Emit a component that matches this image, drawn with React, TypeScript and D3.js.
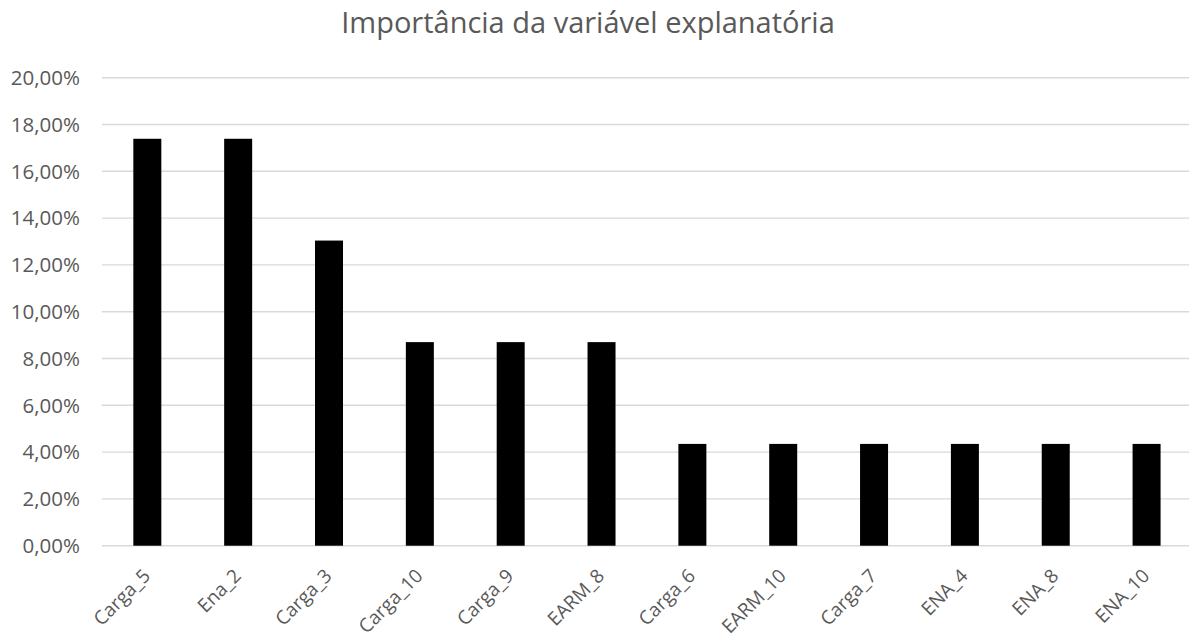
import React, { useEffect, useRef } from "react";
import * as d3 from "d3";

// Importância de cada variável explanatória (%)
const categories = [
  "Carga_5", "Ena_2", "Carga_3", "Carga_10", "Carga_9", "EARM_8",
  "Carga_6", "EARM_10", "Carga_7", "ENA_4", "ENA_8", "ENA_10",
];
const importance = [17.39, 17.39, 13.04, 8.7, 8.7, 8.7, 4.35, 4.35, 4.35, 4.35, 4.35, 4.35];
const yTicks = [0, 2, 4, 6, 8, 10, 12, 14, 16, 18, 20];
const title = "Importância da variável explanatória";

const W = 1189;
const H = 641;
const FONT = "'Open Sans', 'DejaVu Sans', sans-serif";
const TEXT = "#595959";
const GRID = "#d9d9d9";

const ptBR = d3.formatLocale({
  decimal: ",",
  thousands: ".",
  grouping: [3],
  currency: ["R$", ""],
});
const fmt = (v: number) => ptBR.format(".2f")(v) + "%";

export default function App() {
  const ref = useRef<SVGSVGElement>(null);

  useEffect(() => {
    const svg = d3.select(ref.current);
    svg.selectAll("*").remove();

    const x0 = 101.9;
    const x1 = 1192;
    const y = d3.scaleLinear().domain([0, 20]).range([545.7, 77.7]);
    const pad = 1 - 28 / ((x1 - x0) / categories.length);
    const x = d3
      .scaleBand<string>()
      .domain(categories)
      .range([x0, x1])
      .paddingInner(pad)
      .paddingOuter(pad / 2);

    // title
    svg
      .append("text")
      .attr("x", 588)
      .attr("y", 33)
      .attr("text-anchor", "middle")
      .attr("font-family", FONT)
      .attr("font-size", 29)
      .attr("fill", TEXT)
      .text(title);

    // gridlines
    svg
      .append("g")
      .selectAll("line")
      .data(yTicks)
      .join("line")
      .attr("x1", x0)
      .attr("x2", x1)
      .attr("y1", (d) => y(d))
      .attr("y2", (d) => y(d))
      .attr("stroke", GRID)
      .attr("stroke-width", 1.4);

    // y tick labels
    svg
      .append("g")
      .selectAll("text")
      .data(yTicks)
      .join("text")
      .attr("x", 80)
      .attr("y", (d) => y(d))
      .attr("dy", "0.36em")
      .attr("text-anchor", "end")
      .attr("font-family", FONT)
      .attr("font-size", 20.5)
      .attr("fill", TEXT)
      .text((d) => fmt(d));

    // bars
    svg
      .append("g")
      .selectAll("rect")
      .data(categories)
      .join("rect")
      .attr("x", (d) => x(d)!)
      .attr("width", x.bandwidth())
      .attr("y", (_, i) => y(importance[i]))
      .attr("height", (_, i) => y(0) - y(importance[i]))
      .attr("fill", "#000");

    // category labels
    svg
      .append("g")
      .selectAll("text")
      .data(categories)
      .join("text")
      .attr(
        "transform",
        (d) => `translate(${x(d)! + x.bandwidth() / 2 + 4},577) rotate(-45)`
      )
      .attr("text-anchor", "end")
      .attr("font-family", FONT)
      .attr("font-size", 19)
      .attr("fill", TEXT)
      .text((d) => d);
  }, []);

  return (
    <svg
      ref={ref}
      width={W}
      height={H}
      style={{ position: "absolute", left: 0, top: 0, background: "#fff" }}
    />
  );
}
